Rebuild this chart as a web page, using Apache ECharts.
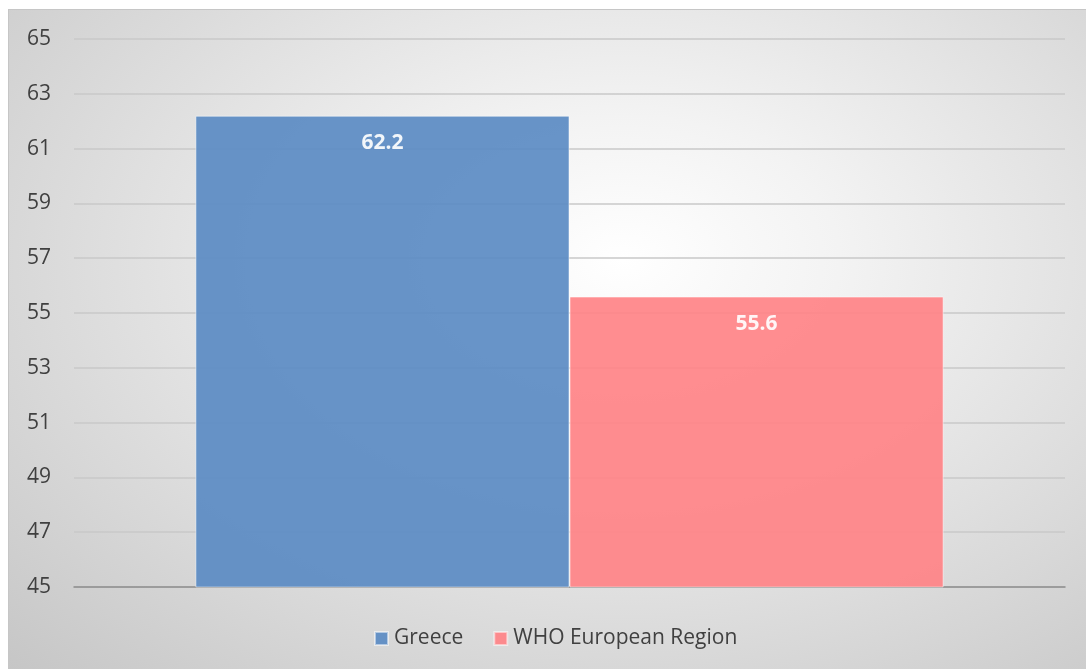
<!DOCTYPE html>
<html>
<head>
<meta charset="utf-8">
<script src="https://cdn.jsdelivr.net/npm/echarts@6/dist/echarts.min.js"></script>
<style>
  html, body { margin: 0; padding: 0; background: #ffffff; overflow: hidden; }
  #chart {
    position: absolute; left: 8px; top: 9px; width: 1078px; height: 660px;
    border-top: 1px solid #c6c6c6; border-left: 1px solid #c6c6c6;
    box-sizing: border-box;
    background: radial-gradient(ellipse farthest-corner at 57% 38%, #ffffff 0%, #f3f3f3 25%, #dedede 60%, #c6c6c6 100%);
  }
</style>
</head>
<body>
<div id="chart"></div>
<script>
// Share of population (%), single comparison group
const categories = ['2019'];
const seriesNames = ['Greece', 'WHO European Region'];
const greeceValues = [62.2];
const whoEuropeValues = [55.6];
const yMin = 45, yMax = 65, yStep = 2;

const colors = ['#5b8bc3', '#ff8387'];

const chart = echarts.init(document.getElementById('chart'), null, { renderer: 'canvas' });

function barSeries(name, data, color) {
  return {
    name: name,
    type: 'bar',
    data: data,
    barGap: '0%',
    barCategoryGap: '24.5%',
    itemStyle: { color: color, opacity: 0.92, borderColor: 'rgba(255,255,255,0.55)', borderWidth: 1 },
    label: {
      show: true,
      position: 'insideTop',
      distance: 17,
      color: '#ffffff',
      fontWeight: 'bold',
      fontSize: 21,
      fontFamily: 'Open Sans, sans-serif',
      formatter: p => p.value.toFixed(1)
    }
  };
}

chart.setOption({
  animation: false,
  textStyle: { fontFamily: 'Open Sans, sans-serif' },
  grid: { left: 65, right: 21, top: 29, bottom: 82, containLabel: false },
  legend: {
    bottom: 15,
    left: 360,
    itemWidth: 13,
    itemHeight: 13,
    itemGap: 30,
    icon: 'rect',
    textStyle: { fontSize: 21, color: '#404040', padding: [0, 0, 0, 1] },
    data: seriesNames
  },
  xAxis: {
    type: 'category',
    data: categories,
    axisLine: { show: true, lineStyle: { color: '#8c8c8c', width: 1.5 } },
    axisTick: { show: false },
    axisLabel: { show: false }
  },
  yAxis: {
    type: 'value',
    min: yMin,
    max: yMax,
    interval: yStep,
    axisLine: { show: false },
    axisTick: { show: false },
    axisLabel: { fontSize: 21, color: '#404040', margin: 23 },
    splitLine: { lineStyle: { color: '#c9c9c9', width: 1.5 } }
  },
  series: [
    barSeries(seriesNames[0], greeceValues, colors[0]),
    barSeries(seriesNames[1], whoEuropeValues, colors[1])
  ]
});
</script>
</body>
</html>
